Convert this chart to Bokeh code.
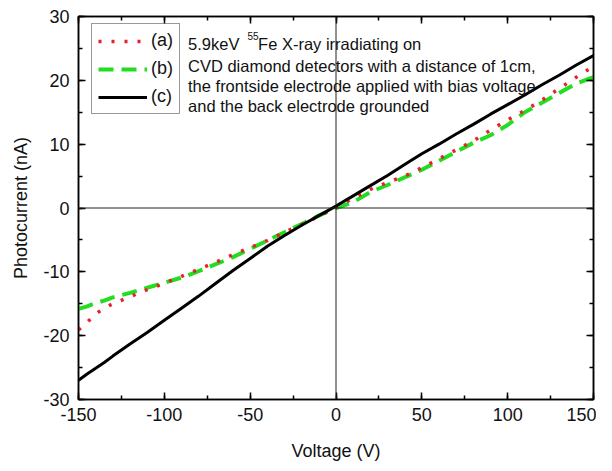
from bokeh.plotting import figure
from bokeh.models import (Range1d, LinearAxis, SingleIntervalTicker, Span, Label,
                          Legend, LegendItem, CustomJSTickFormatter)
from bokeh.embed import file_html
from bokeh.resources import INLINE

# ---- data ----
voltage = [-150, -145, -140, -135, -130, -120, -110, -100, -90, -80, -70, -60, -50,
           -40, -30, -20, -10, 0, 10, 20, 30, 40, 50, 60, 70, 80, 90, 100, 110,
           120, 130, 140, 150]
current_a = [-19.1, -17.9, -16.6, -15.7, -15.0, -13.9, -12.8, -11.8, -10.7, -9.6, -8.5,
             -7.3, -6.2, -5.1, -3.8, -2.6, -1.3, 0.1, 1.5, 2.9, 4.0, 5.0, 6.3, 7.7,
             9.1, 10.5, 12.2, 13.8, 15.3, 16.9, 18.7, 20.5, 22.2]
current_b = [-15.8, -15.4, -14.9, -14.5, -14.0, -13.3, -12.5, -11.7, -10.9, -9.9, -8.8,
             -7.7, -6.4, -5.1, -3.8, -2.5, -1.2, 0.0, 0.9, 2.5, 3.6, 4.8, 6.0, 7.4,
             8.8, 10.2, 11.4, 13.0, 15.0, 16.5, 18.0, 19.5, 20.5]
current_c = [-27.0, -26.0, -25.1, -24.2, -23.2, -21.3, -19.5, -17.6, -15.7, -13.8, -11.8,
             -9.8, -7.9, -6.0, -4.3, -2.7, -1.2, 0.3, 1.9, 3.5, 5.1, 6.8, 8.5, 10.0,
             11.6, 13.1, 14.7, 16.2, 17.7, 19.3, 20.8, 22.4, 23.9]
series_labels = ["(a)", "(b)", "(c)"]
note_lines = ["CVD diamond detectors with a distance of 1cm,",
              "the frontside electrode applied with bias voltage",
              "and the back electrode grounded"]

FONT = "Liberation Sans"
TXT = "#111111"

p = figure(width=596, height=463, x_range=Range1d(-150, 150), y_range=Range1d(-30, 30),
           output_backend="svg", toolbar_location=None,
           min_border_left=78, min_border_right=3, min_border_top=16, min_border_bottom=64)
p.xgrid.visible = False
p.ygrid.visible = False
p.outline_line_color = "black"
p.outline_line_width = 1.5

p.xaxis.ticker = SingleIntervalTicker(interval=50, num_minor_ticks=2)
p.yaxis.ticker = SingleIntervalTicker(interval=10, num_minor_ticks=2)
p.xaxis.axis_label = "Voltage (V)"
p.yaxis.axis_label = "Photocurrent (nA)"
fmt = CustomJSTickFormatter(code="return tick.toString();")

for ax in [p.xaxis[0], p.yaxis[0]]:
    ax.formatter = fmt
    ax.axis_label_text_font = FONT
    ax.axis_label_text_font_style = "normal"
    ax.axis_label_text_font_size = "18px"
    ax.axis_label_text_color = TXT
    ax.major_label_text_font = FONT
    ax.major_label_text_font_size = "18px"
    ax.major_label_text_color = TXT
    ax.axis_line_width = 1.5
    ax.major_tick_in = 7
    ax.major_tick_out = 0
    ax.minor_tick_in = 4
    ax.minor_tick_out = 0
    ax.major_tick_line_width = 1.5
    ax.minor_tick_line_width = 1.5
p.xaxis.major_label_standoff = 8
p.yaxis.major_label_standoff = 9
p.xaxis.axis_label_standoff = 17
p.yaxis.axis_label_standoff = 9

blank = CustomJSTickFormatter(code="return '';")
top_ax = LinearAxis(ticker=SingleIntervalTicker(interval=50, num_minor_ticks=2), formatter=blank)
right_ax = LinearAxis(ticker=SingleIntervalTicker(interval=10, num_minor_ticks=2), formatter=blank)
for ax in [top_ax, right_ax]:
    ax.major_label_standoff = 0
    ax.axis_line_width = 1.5
    ax.major_tick_in = 7
    ax.major_tick_out = 0
    ax.minor_tick_in = 4
    ax.minor_tick_out = 0
    ax.major_tick_line_width = 1.5
    ax.minor_tick_line_width = 1.5
p.add_layout(top_ax, "above")
p.add_layout(right_ax, "right")

p.add_layout(Span(location=0, dimension="width", line_color="#222222", line_width=1))
p.add_layout(Span(location=0, dimension="height", line_color="#222222", line_width=1))

rb = p.line(voltage, current_b, line_color="#22dd22", line_width=4, line_dash="15 8")
ra = p.line(voltage, current_a, line_color="#e8202a", line_width=3.5, line_dash="3 10")
rc = p.line(voltage, current_c, line_color="black", line_width=3)

legend = Legend(items=[LegendItem(label=series_labels[0], renderers=[ra]),
                       LegendItem(label=series_labels[1], renderers=[rb]),
                       LegendItem(label=series_labels[2], renderers=[rc])],
                location=(13, 285))
legend.label_text_font = FONT
legend.label_text_font_size = "18px"
legend.label_text_color = TXT
legend.glyph_width = 49
legend.glyph_height = 20
legend.label_height = 20
legend.label_standoff = 4
legend.spacing = 7
legend.padding = 6
legend.margin = 0
legend.border_line_color = "#333333"
legend.border_line_width = 1
legend.background_fill_alpha = 0
p.add_layout(legend, "center")

label_kw = dict(text_font=FONT, text_color=TXT, text_baseline="alphabetic")
dy = 0.65
p.add_layout(Label(x=-86.2, y=25.0 + dy, text="5.9keV", text_font_size="16.5px", **label_kw))
p.add_layout(Label(x=-51.6, y=26.3 + dy, text="55", text_font_size="10px", **label_kw))
p.add_layout(Label(x=-45.4, y=25.0 + dy, text="Fe X-ray irradiating on", text_font_size="16.5px", **label_kw))
for i, line in enumerate(note_lines):
    p.add_layout(Label(x=-86.2, y=[21.65, 18.4, 15.3][i] + dy, text=line,
                       text_font_size="16.5px", **label_kw))

open("out.html", "w").write(file_html(p, INLINE))
